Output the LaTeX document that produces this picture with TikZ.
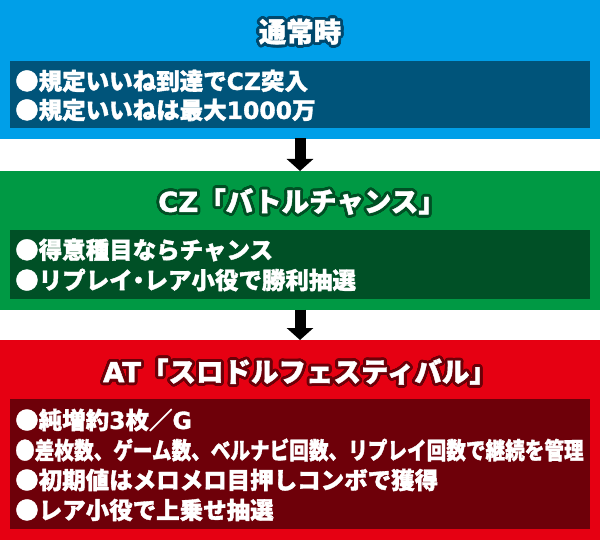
\documentclass[tikz,border=0pt]{standalone}
\usepackage{fontspec}
\usepackage{contour}
\usetikzlibrary{arrows.meta}
\IfFontExistsTF{Noto Sans CJK JP Black}
  {\newfontfamily\jpT{Noto Sans CJK JP Black}[FakeBold=1.5]}
  {\newfontfamily\jpT{Noto Sans CJK JP}[UprightFont={* Bold}, FakeBold=1.5]}
\newfontfamily\latT{DejaVu Sans}[UprightFont={* Bold}, FakeBold=1.5]
\newcommand\latn[1]{{\latT #1}}
\contourlength{2.8pt}
\contournumber{32}
\definecolor{blueP}{HTML}{009FE8}
\definecolor{blueD}{HTML}{00547A}
\definecolor{blueO}{HTML}{00486C}
\definecolor{greenP}{HTML}{009944}
\definecolor{greenD}{HTML}{005026}
\definecolor{greenO}{HTML}{004F24}
\definecolor{redP}{HTML}{E60012}
\definecolor{redD}{HTML}{6E0009}
\definecolor{redO}{HTML}{6B0008}
\tikzset{
  panel/.style={rectangle, inner sep=0pt, outer sep=0pt, minimum width=600pt, anchor=north west},
  inbox/.style={rectangle, inner sep=0pt, outer sep=0pt, minimum width=580pt, anchor=north west},
  ttl/.style={inner sep=0pt, text=white, font=\jpT\fontsize{27.5}{30}\selectfont},
  bodyline/.style={anchor=west, inner sep=0pt, text=white, font=\jpT\fontsize{23.5}{26}\selectfont},
  flow/.style={line width=11pt, -{Triangle[width=26pt,length=12pt]}, black, shorten <=-0.5pt}
}
\begin{document}
\begin{tikzpicture}[x=1pt,y=-1pt]
\useasboundingbox (0,0) rectangle (600,540);
% panels
\node[panel, fill=blueP, minimum height=139pt] (p1) at (0,0) {};
\node[panel, fill=greenP, minimum height=139pt] (p2) at (0,171) {};
\node[panel, fill=redP, minimum height=200pt] (p3) at (0,340) {};
% inner boxes
\node[inbox, fill=blueD, minimum height=67pt] (d1) at (10,61) {};
\node[inbox, fill=greenD, minimum height=69pt] (d2) at (10,230) {};
\node[inbox, fill=redD, minimum height=130pt] (d3) at (10,399) {};
% titles
\node[ttl] (t1) at (300,33) {\contour{blueO}{通常時}};
\node[ttl] (t2) at (302,203) {\contour{greenO}{\latn{CZ}「バトルチャンス」}};
\node[ttl] (t3) at (300,373) {\contour{redO}{\latn{AT}「スロドルフェスティバル」}};
% lines
\node[bodyline] (b1) at (15,81) {●規定いいね到達で\latn{CZ}突入};
\node[bodyline] (b2) at (15,110) {●規定いいねは最大\latn{1000}万};
\node[bodyline] (g1) at (15,250) {●得意種目ならチャンス};
\node[bodyline] (g2) at (15,280) {●リプレイ\makebox[0.5em][c]{・}レア小役で勝利抽選};
\node[bodyline] (r1) at (15,420) {●純増約\latn{3}枚／\latn{G}};
\node[bodyline] (r2) at (15,450) {\scalebox{0.835}[1]{●差枚数、ゲーム数、ベルナビ回数、リプレイ回数で継続を管理}};
\node[bodyline] (r3) at (15,480) {●初期値はメロメロ目押しコンボで獲得};
\node[bodyline] (r4) at (15,510) {●レア小役で上乗せ抽選};
% arrows
\draw[flow] (p1.south) -- (p2.north);
\draw[flow] (p2.south) -- (p3.north);
\end{tikzpicture}
\end{document}
